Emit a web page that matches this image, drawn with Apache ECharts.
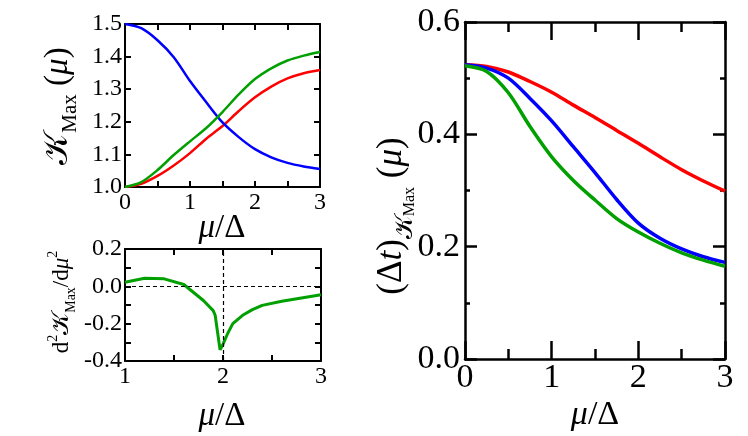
<!DOCTYPE html>
<html>
<head>
<meta charset="utf-8">
<script src="https://cdn.jsdelivr.net/npm/echarts@6/dist/echarts.min.js"></script>
<style>
  html, body { margin: 0; padding: 0; background: #fff; }
  #main { width: 748px; height: 436px; }
</style>
</head>
<body>
<div id="main"></div>
<script>
// K_Max(mu) panel (top left)
const kmaxX = [0, 0.25, 0.5, 0.75, 1, 1.25, 1.5, 1.75, 2, 2.25, 2.5, 2.75, 3]
const kmaxRed = [1.0, 1.01, 1.034, 1.066, 1.104, 1.148, 1.187, 1.233, 1.275, 1.308, 1.333, 1.349, 1.359]
const kmaxGreen = [1.0, 1.015, 1.052, 1.098, 1.14, 1.181, 1.23, 1.284, 1.331, 1.364, 1.388, 1.403, 1.414]
const kmaxBlue = [1.5, 1.487, 1.45, 1.398, 1.325, 1.26, 1.198, 1.153, 1.116, 1.091, 1.074, 1.063, 1.055]

// d2K/dmu2 panel (bottom left)
const d2X = [1.0, 1.2, 1.4, 1.6, 1.8, 1.9, 1.92, 1.97, 2.0, 2.05, 2.1, 2.2, 2.3, 2.4, 2.6, 2.8, 3.0]
const d2Green = [0.022, 0.043, 0.04, 0.01, -0.076, -0.13, -0.155, -0.34, -0.31, -0.25, -0.2, -0.155, -0.125, -0.102, -0.08, -0.062, -0.045]

// (dt)_K_Max panel (right)
const dtX = [0, 0.25, 0.5, 0.75, 1, 1.25, 1.5, 1.75, 2, 2.25, 2.5, 2.75, 3]
const dtRed = [0.524, 0.521, 0.511, 0.494, 0.475, 0.452, 0.43, 0.407, 0.384, 0.36, 0.337, 0.317, 0.299]
const dtBlue = [0.524, 0.518, 0.5, 0.464, 0.424, 0.378, 0.332, 0.284, 0.242, 0.215, 0.196, 0.182, 0.172]
const dtGreen = [0.522, 0.512, 0.474, 0.414, 0.36, 0.318, 0.283, 0.25, 0.226, 0.206, 0.189, 0.176, 0.165]

const RED = '#ff0000'
const GREEN = '#00a000'
const BLUE = '#0000ff'
const FONT = '"Liberation Serif", "DejaVu Serif", serif'

function pairs(xs, ys) {
  return xs.map((x, i) => [x, ys[i]])
}

/** one axis of a framed box; only the main ones carry labels */
function frameAxis(o) {
  return {
    type: 'value',
    gridIndex: o.grid,
    position: o.position,
    min: o.min,
    max: o.max,
    interval: o.interval,
    axisLine: { show: true, onZero: false, lineStyle: { color: '#000', width: o.lw || 2 } },
    axisTick: { show: true, inside: true, length: o.tick || 6, lineStyle: { color: '#000', width: o.lw || 2 } },
    minorTick: o.minor
      ? { show: true, splitNumber: 2, length: o.minor, lineStyle: { color: '#000', width: o.lw || 2 } }
      : { show: false },
    splitLine: { show: false },
    axisLabel: o.labels
      ? {
        show: true,
        color: '#000',
        fontFamily: FONT,
        fontSize: o.fontSize,
        margin: o.margin,
        formatter: o.formatter
      }
      : { show: false }
  }
}

const intLabel = v => (Math.abs(v - Math.round(v)) < 1e-6 ? String(Math.round(v)) : '')
const evenTenth = v => {
  const k = Math.round(v * 10)
  return k % 2 === 0 ? (k / 10).toFixed(1) : ''
}

const chart = echarts.init(document.getElementById('main'))

const option = {
  backgroundColor: '#fff',
  animation: false,
  grid: [
    { left: 125, top: 24, width: 195, height: 163 },
    { left: 125, top: 249, width: 196, height: 112 },
    { left: 465, top: 22, width: 260, height: 337 }
  ],
  xAxis: [
    frameAxis({ grid: 0, position: 'bottom', min: 0, max: 3, interval: 0.5, labels: true, fontSize: 24, margin: 4, formatter: intLabel }),
    frameAxis({ grid: 0, position: 'top', min: 0, max: 3, interval: 0.5 }),
    frameAxis({ grid: 1, position: 'bottom', min: 1, max: 3, interval: 0.5, labels: true, fontSize: 24, margin: 4, formatter: intLabel }),
    frameAxis({ grid: 1, position: 'top', min: 1, max: 3, interval: 0.5 }),
    frameAxis({ grid: 2, position: 'bottom', min: 0, max: 3, interval: 1, tick: 18, minor: 10, lw: 2.5, labels: true, fontSize: 34, margin: 2, formatter: intLabel }),
    frameAxis({ grid: 2, position: 'top', min: 0, max: 3, interval: 1, tick: 18, minor: 10, lw: 2.5 })
  ],
  yAxis: [
    frameAxis({ grid: 0, position: 'left', min: 1, max: 1.5, interval: 0.1, labels: true, fontSize: 24, margin: 3, formatter: v => v.toFixed(1) }),
    frameAxis({ grid: 0, position: 'right', min: 1, max: 1.5, interval: 0.1 }),
    frameAxis({ grid: 1, position: 'left', min: -0.4, max: 0.2, interval: 0.1, labels: true, fontSize: 24, margin: 3, formatter: evenTenth }),
    frameAxis({ grid: 1, position: 'right', min: -0.4, max: 0.2, interval: 0.1 }),
    frameAxis({ grid: 2, position: 'left', min: 0, max: 0.6, interval: 0.2, tick: 12, minor: 5, lw: 2.5, labels: true, fontSize: 34, margin: 5, formatter: v => v.toFixed(1) }),
    frameAxis({ grid: 2, position: 'right', min: 0, max: 0.6, interval: 0.2, tick: 12, minor: 5, lw: 2.5 })
  ],
  series: [
    { type: 'line', xAxisIndex: 0, yAxisIndex: 0, data: pairs(kmaxX, kmaxRed), showSymbol: false, smooth: 0.3, lineStyle: { color: RED, width: 2.5 } },
    { type: 'line', xAxisIndex: 0, yAxisIndex: 0, data: pairs(kmaxX, kmaxBlue), showSymbol: false, smooth: 0.3, lineStyle: { color: BLUE, width: 2.5 } },
    { type: 'line', xAxisIndex: 0, yAxisIndex: 0, data: pairs(kmaxX, kmaxGreen), showSymbol: false, smooth: 0.3, lineStyle: { color: GREEN, width: 2.5 } },
    {
      type: 'line',
      xAxisIndex: 2,
      yAxisIndex: 2,
      data: pairs(d2X, d2Green),
      showSymbol: false,
      lineStyle: { color: GREEN, width: 3 },
      markLine: {
        silent: true,
        symbol: 'none',
        label: { show: false },
        lineStyle: { color: '#000', width: 1.2, type: [4, 3] },
        data: [{ yAxis: 0 }, { xAxis: 2 }]
      }
    },
    { type: 'line', xAxisIndex: 4, yAxisIndex: 4, data: pairs(dtX, dtRed), showSymbol: false, smooth: 0.3, lineStyle: { color: RED, width: 3.5 } },
    { type: 'line', xAxisIndex: 4, yAxisIndex: 4, data: pairs(dtX, dtBlue), showSymbol: false, smooth: 0.3, lineStyle: { color: BLUE, width: 3.5 } },
    { type: 'line', xAxisIndex: 4, yAxisIndex: 4, data: pairs(dtX, dtGreen), showSymbol: false, smooth: 0.3, lineStyle: { color: GREEN, width: 3.5 } }
  ],
  graphic: [
    // y titles, read bottom to top
    {
      type: 'text',
      x: 58,
      y: 106,
      rotation: Math.PI / 2,
      style: {
        text: '{k|𝒦}{s|Max}{n| (}{m|μ}{n|)}',
        align: 'center',
        verticalAlign: 'middle',
        textAlign: 'center',
        textVerticalAlign: 'middle',
        fill: '#000',
        rich: {
          k: { fontFamily: FONT, fontSize: 34, lineHeight: 46, fill: '#000' },
          s: { fontFamily: FONT, fontSize: 21, lineHeight: 21, verticalAlign: 'bottom', fill: '#000' },
          n: { fontFamily: FONT, fontSize: 33, lineHeight: 46, fill: '#000' },
          m: { fontFamily: FONT, fontSize: 33, lineHeight: 46, fontStyle: 'italic', fill: '#000' }
        }
      }
    },
    {
      type: 'text',
      x: 62,
      y: 302,
      rotation: Math.PI / 2,
      style: {
        text: '{n|d}{p|2}{k|𝒦}{s|Max}{n|/d}{m|μ}{p|2}',
        align: 'center',
        verticalAlign: 'middle',
        textAlign: 'center',
        textVerticalAlign: 'middle',
        fill: '#000',
        rich: {
          n: { fontFamily: FONT, fontSize: 23, lineHeight: 32, fill: '#000' },
          k: { fontFamily: FONT, fontSize: 24, lineHeight: 32, fill: '#000' },
          m: { fontFamily: FONT, fontSize: 23, lineHeight: 32, fontStyle: 'italic', fill: '#000' },
          s: { fontFamily: FONT, fontSize: 14, lineHeight: 14, verticalAlign: 'bottom', fill: '#000' },
          p: { fontFamily: FONT, fontSize: 14, lineHeight: 14, verticalAlign: 'top', fill: '#000' }
        }
      }
    },
    {
      type: 'text',
      x: 392,
      y: 216,
      rotation: Math.PI / 2,
      style: {
        text: '{n|(Δ}{m|t}{n|)}{k|𝒦}{s|Max}{n| (}{m|μ}{n|)}',
        align: 'center',
        verticalAlign: 'middle',
        textAlign: 'center',
        textVerticalAlign: 'middle',
        fill: '#000',
        rich: {
          n: { fontFamily: FONT, fontSize: 35, lineHeight: 52, fill: '#000' },
          m: { fontFamily: FONT, fontSize: 35, lineHeight: 52, fontStyle: 'italic', fill: '#000' },
          k: { fontFamily: FONT, fontSize: 25, lineHeight: 26, verticalAlign: 'bottom', fill: '#000' },
          s: { fontFamily: FONT, fontSize: 16, lineHeight: 16, verticalAlign: 'bottom', fill: '#000' }
        }
      }
    },
    // x titles
    {
      type: 'text',
      x: 222,
      y: 228,
      style: {
        text: '{m|μ}{n|/Δ}',
        align: 'center',
        verticalAlign: 'middle',
        textAlign: 'center',
        textVerticalAlign: 'middle',
        rich: {
          m: { fontFamily: FONT, fontSize: 33, fontStyle: 'italic', fill: '#000' },
          n: { fontFamily: FONT, fontSize: 33, fill: '#000' }
        }
      }
    },
    {
      type: 'text',
      x: 222,
      y: 416,
      style: {
        text: '{m|μ}{n|/Δ}',
        align: 'center',
        verticalAlign: 'middle',
        textAlign: 'center',
        textVerticalAlign: 'middle',
        rich: {
          m: { fontFamily: FONT, fontSize: 33, fontStyle: 'italic', fill: '#000' },
          n: { fontFamily: FONT, fontSize: 33, fill: '#000' }
        }
      }
    },
    {
      type: 'text',
      x: 595,
      y: 415,
      style: {
        text: '{m|μ}{n|/Δ}',
        align: 'center',
        verticalAlign: 'middle',
        textAlign: 'center',
        textVerticalAlign: 'middle',
        rich: {
          m: { fontFamily: FONT, fontSize: 34, fontStyle: 'italic', fill: '#000' },
          n: { fontFamily: FONT, fontSize: 34, fill: '#000' }
        }
      }
    }
  ]
}

chart.setOption(option, true)
</script>
</body>
</html>
